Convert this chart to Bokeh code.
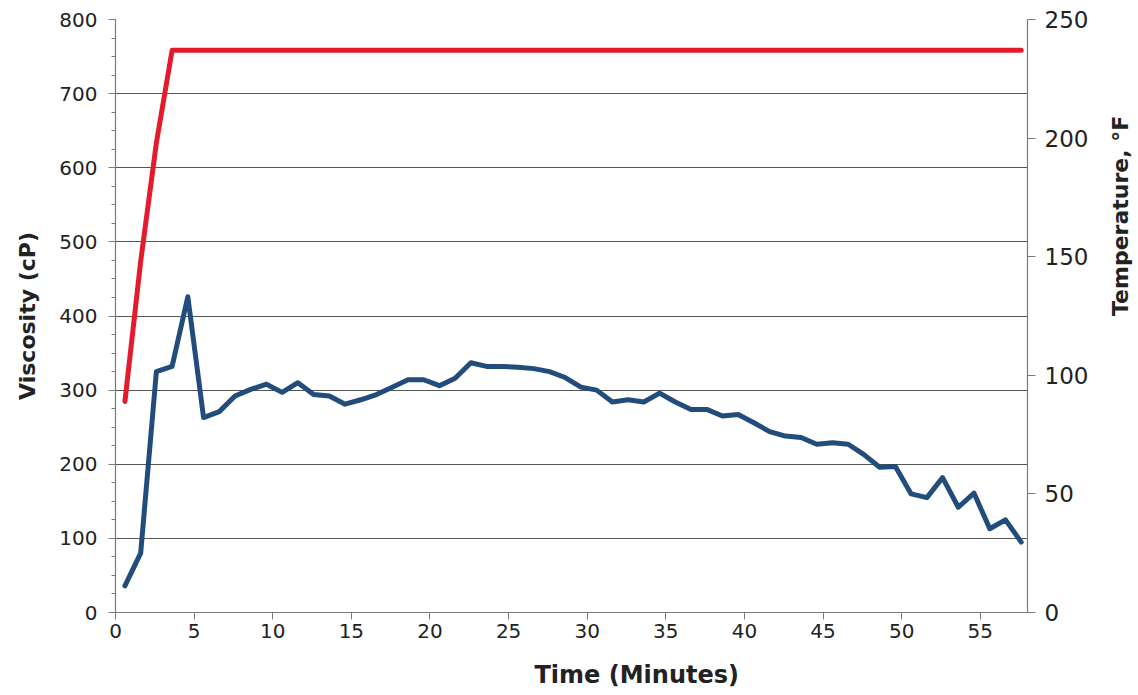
import math
from bokeh.plotting import figure
from bokeh.models import LinearAxis, Range1d, SingleIntervalTicker, Title
from bokeh.embed import file_html
from bokeh.resources import INLINE

# ---- data ----
time_min = [0.6, 1.6, 2.6, 3.6, 4.6, 5.6, 6.6, 7.6, 8.6, 9.6,
            10.6, 11.6, 12.6, 13.6, 14.6, 15.6, 16.6, 17.6, 18.6, 19.6,
            20.6, 21.6, 22.6, 23.6, 24.6, 25.6, 26.6, 27.6, 28.6, 29.6,
            30.6, 31.6, 32.6, 33.6, 34.6, 35.6, 36.6, 37.6, 38.6, 39.6,
            40.6, 41.6, 42.6, 43.6, 44.6, 45.6, 46.6, 47.6, 48.6, 49.6,
            50.6, 51.6, 52.6, 53.6, 54.6, 55.6, 56.6, 57.6]
viscosity_cp = [36, 80, 325, 332, 426, 263, 271, 292, 301, 308,
                297, 310, 294, 292, 281, 287, 294, 304, 314, 314,
                306, 316, 337, 332, 332, 331, 329, 325, 317, 304,
                300, 284, 287, 284, 296, 284, 274, 274, 265, 267,
                256, 244, 238, 236, 227, 229, 227, 213, 196, 197,
                160, 155, 182, 142, 161, 113, 125, 95]
temperature_f = [89, 148, 198, 237, 237, 237, 237, 237, 237, 237,
                 237, 237, 237, 237, 237, 237, 237, 237, 237, 237,
                 237, 237, 237, 237, 237, 237, 237, 237, 237, 237,
                 237, 237, 237, 237, 237, 237, 237, 237, 237, 237,
                 237, 237, 237, 237, 237, 237, 237, 237, 237, 237,
                 237, 237, 237, 237, 237, 237, 237, 237]

x_label = "Time (Minutes)"
y_label = "Viscosity (cP)"
y2_label = "Temperature, °F"

FONT = "DejaVu Sans"

p = figure(output_backend="svg", toolbar_location=None,
           frame_width=912, frame_height=593,
           min_border_left=115, min_border_right=110,
           min_border_top=19, min_border_bottom=82,
           x_range=Range1d(0, 58), y_range=Range1d(0, 800))
p.extra_y_ranges = {"temp": Range1d(0, 250)}
p.outline_line_color = None
p.background_fill_color = "white"
p.border_fill_color = "white"

# x axis
xa = p.xaxis[0]
xa.ticker = SingleIntervalTicker(interval=5, num_minor_ticks=0)
# left axis
ya = p.yaxis[0]
ya.ticker = SingleIntervalTicker(interval=100, num_minor_ticks=4)
ya.axis_label = y_label
# right axis
yr = LinearAxis(y_range_name="temp",
                ticker=SingleIntervalTicker(interval=50, num_minor_ticks=0),
                axis_label=y2_label)
p.add_layout(yr, "right")

for ax in (xa, ya, yr):
    ax.axis_line_color = "#7a7a7a"
    ax.axis_line_width = 1.2
    ax.major_tick_line_color = "#7a7a7a"
    ax.minor_tick_line_color = "#7a7a7a"
    ax.major_tick_in = 0
    ax.minor_tick_in = 0
    ax.major_tick_out = 7
    ax.minor_tick_out = 4
    ax.major_label_text_font = FONT
    ax.major_label_text_font_size = "20px"
    ax.major_label_text_color = "#222222"
    ax.axis_label_text_font = FONT
    ax.axis_label_text_font_size = "22px"
    ax.axis_label_text_font_style = "bold"
    ax.axis_label_text_color = "#222222"

yr.major_label_text_font_size = "23px"
yr.major_tick_out = 8
ya.major_label_standoff = 11
ya.axis_label_standoff = 16
yr.major_label_standoff = 9
yr.axis_label_standoff = 29
xa.major_label_standoff = 4

if "axis_label_orientation" in yr.properties():
    yr.axis_label_orientation = math.pi / 2

p.xgrid.visible = False
p.ygrid.grid_line_color = "#555555"
p.ygrid.grid_line_width = 1

p.line(time_min, temperature_f, y_range_name="temp", line_color="#E31B2C",
       line_width=5, line_join="round", line_cap="round")
p.line(time_min, viscosity_cp, line_color="#214C7C",
       line_width=5, line_join="round", line_cap="round")

p.add_layout(Title(text=x_label, align="left", offset=419,
                   text_font=FONT, text_font_size="24px",
                   text_font_style="bold", text_color="#222222",
                   standoff=37), "below")

open("out.html", "w").write(file_html(p, INLINE))
